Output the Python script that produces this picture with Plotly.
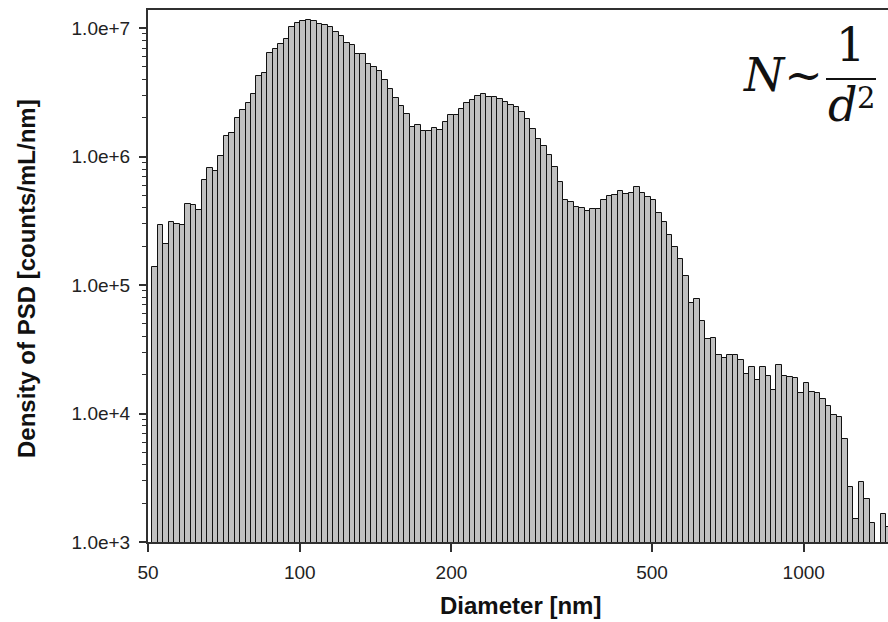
import numpy as np
import plotly.graph_objects as go

# ---- data ----
# histogram bins are log-uniform: first edge and log10 bin width
BIN_EDGE_START_NM = 51.03
LOG10_BIN_WIDTH = 0.010861

density = [
    1.385e5, 2.955e5, 2.09e5, 3.08e5, 2.99e5, 2.92e5, 4.28e5, 4.17e5, 3.84e5, 6.61e5,
    8.15e5, 7.73e5, 1.004e6, 1.454e6, 1.526e6, 2.007e6, 2.315e6, 2.593e6, 3.084e6, 4.233e6,
    4.436e6, 6.43e6, 6.94e6, 7.51e6, 8.21e6, 1.029e7, 1.105e7, 1.133e7, 1.154e7, 1.14e7,
    1.074e7, 1.061e7, 1.018e7, 9.31e6, 8.67e6, 7.69e6, 7.38e6, 6.28e6, 6.28e6, 5.21e6,
    4.97e6, 4.63e6, 3.96e6, 3.355e6, 2.87e6, 2.488e6, 2.145e6, 1.699e6, 1.761e6, 1.582e6,
    1.582e6, 1.669e6, 1.619e6, 1.845e6, 2.091e6, 2.091e6, 2.345e6, 2.611e6, 2.77e6, 2.976e6,
    3.084e6, 2.907e6, 2.886e6, 2.805e6, 2.658e6, 2.519e6, 2.413e6, 2.207e6, 1.947e6, 1.639e6,
    1.36e6, 1.209e6, 1.029e6, 8.35e5, 6.35e5, 4.6e5, 4.405e5, 4.03e5, 3.985e5, 3.797e5,
    3.935e5, 3.935e5, 4.565e5, 4.94e5, 4.99e5, 5.36e5, 5.145e5, 5.24e5, 5.8e5, 5.21e5,
    4.82e5, 4.565e5, 3.642e5, 3.1e5, 2.439e5, 1.992e5, 1.598e5, 1.171e5, 7.31e4, 7.81e4,
    5.29e4, 3.77e4, 3.886e4, 2.88e4, 2.683e4, 2.866e4, 2.866e4, 2.62e4, 2.04e4, 2.311e4,
    1.831e4, 2.311e4, 1.967e4, 1.532e4, 2.396e4, 1.967e4, 1.933e4, 1.885e4, 1.451e4, 1.736e4,
    1.477e4, 1.441e4, 1.303e4, 1.15e4, 9.66e3, 9.33e3, 6.37e3, 2.697e3, 1.521e3, 2.949e3,
    2.175e3, 1.405e3, None, 1.663e3, 1.308e3,
]

x_tick_vals = [50, 100, 200, 500, 1000]
x_tick_text = ["50", "100", "200", "500", "1000"]
y_tick_vals = [1e3, 1e4, 1e5, 1e6, 1e7]
y_tick_text = ["1.0e+3", "1.0e+4", "1.0e+5", "1.0e+6", "1.0e+7"]
y_minor_vals = [m * 10 ** k for k in range(3, 7) for m in range(2, 10)]

x_title = "Diameter [nm]"
y_title = "Density of PSD [counts/mL/nm]"

# ---- bins ----
n = len(density)
edges = BIN_EDGE_START_NM * 10 ** (LOG10_BIN_WIDTH * np.arange(n + 1))
mids = (edges[:-1] + edges[1:]) / 2
widths = edges[1:] - edges[:-1]

# ---- layout geometry (pixels) ----
W, H = 888, 622
L_M, R_M, T_M, B_M = 148, 0, 10, 80
PW, PH = W - L_M - R_M, H - T_M - B_M


def px(xpix):
    return (xpix - L_M) / PW


def py(ypix):
    return (H - B_M - ypix) / PH


fig = go.Figure()
fig.add_trace(
    go.Bar(
        x=mids,
        y=density,
        width=widths,
        marker=dict(color="#c0c0c0", line=dict(color="#111111", width=1)),
        hoverinfo="x+y",
    )
)

axis_color = "#303030"
tick_font = dict(family="Liberation Sans, Arial, sans-serif", size=19, color="#222222")

fig.update_xaxes(
    type="log",
    range=[np.log10(50), np.log10(50) + PW / 504.0],
    tickmode="array",
    tickvals=x_tick_vals,
    ticktext=x_tick_text,
    ticks="outside",
    ticklen=8,
    tickwidth=1.5,
    tickcolor=axis_color,
    ticklabelstandoff=4,
    showline=True,
    linewidth=2,
    linecolor=axis_color,
    mirror=True,
    showgrid=False,
    zeroline=False,
    tickfont=tick_font,
)
fig.update_yaxes(
    type="log",
    range=[3, 7.141],
    tickmode="array",
    tickvals=y_tick_vals,
    ticktext=y_tick_text,
    ticks="outside",
    ticklen=7,
    tickwidth=1.5,
    tickcolor=axis_color,
    ticklabelstandoff=5,
    minor=dict(tickmode="array", tickvals=y_minor_vals, ticks="outside", ticklen=4,
               tickwidth=1, tickcolor=axis_color, showgrid=False),
    showline=True,
    linewidth=2,
    linecolor=axis_color,
    mirror=False,
    showgrid=False,
    zeroline=False,
    tickfont=tick_font,
)

title_font = dict(family="Liberation Sans, Arial, sans-serif", size=24, color="#111111")
math_font = dict(family="DejaVu Serif, serif", size=46, color="#111111")

annotations = [
    dict(text="<b>" + x_title + "</b>", x=px(520), y=py(605), xref="paper", yref="paper",
         showarrow=False, xanchor="center", yanchor="middle", font=title_font),
    dict(text="<b>" + y_title + "</b>", x=px(26), y=py(279), xref="paper", yref="paper",
         showarrow=False, xanchor="center", yanchor="middle", textangle=-90, font=title_font),
    dict(text="<i>N</i>~", x=px(783), y=py(75), xref="paper", yref="paper",
         showarrow=False, xanchor="center", yanchor="middle", font=math_font),
    dict(text="1", x=px(850), y=py(45), xref="paper", yref="paper",
         showarrow=False, xanchor="center", yanchor="middle", font=math_font),
    dict(text="<i>d</i>", x=px(842), y=py(105), xref="paper", yref="paper",
         showarrow=False, xanchor="center", yanchor="middle", font=math_font),
    dict(text="2", x=px(866), y=py(98), xref="paper", yref="paper",
         showarrow=False, xanchor="center", yanchor="middle",
         font=dict(family="DejaVu Serif, serif", size=29, color="#111111")),
]

fig.update_layout(
    width=W,
    height=H,
    margin=dict(l=L_M, r=R_M, t=T_M, b=B_M, autoexpand=False),
    paper_bgcolor="white",
    plot_bgcolor="white",
    showlegend=False,
    bargap=0,
    annotations=annotations,
    shapes=[
        dict(type="line", xref="paper", yref="paper", x0=px(826), x1=px(876),
             y0=py(79), y1=py(79), line=dict(color="#111111", width=2)),
    ],
)

fig.write_html("out.html")
